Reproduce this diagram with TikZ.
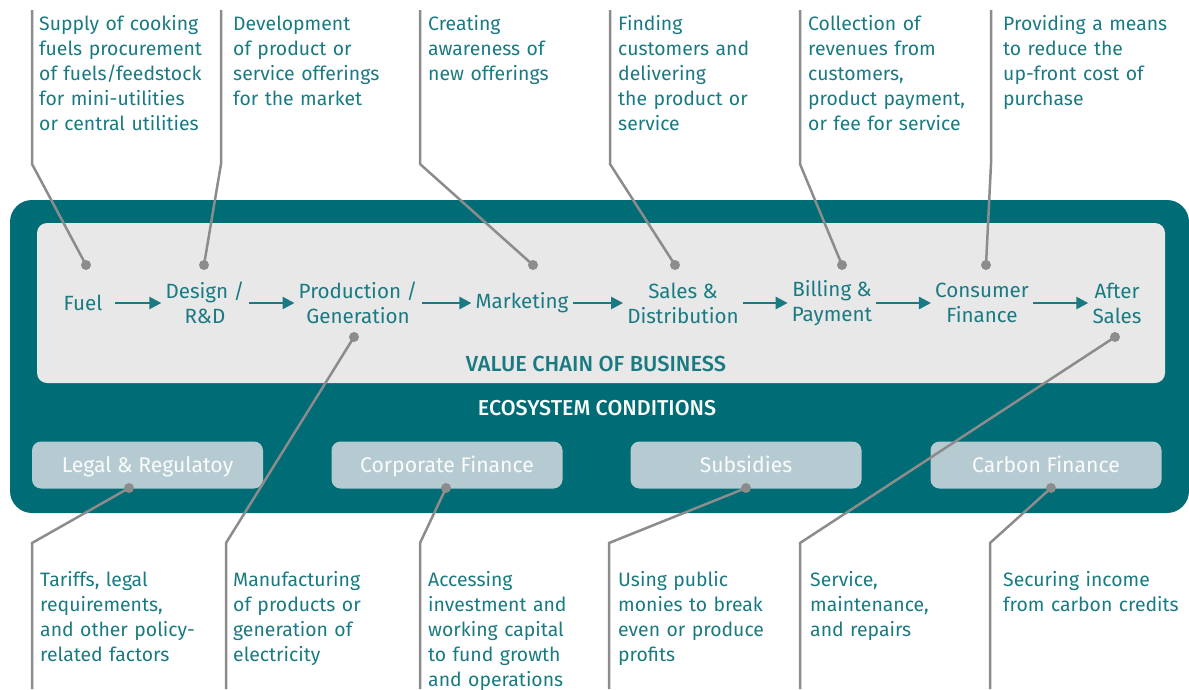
\documentclass[tikz,border=0pt]{standalone}
\usepackage{fontspec}
\setmainfont{Fira Sans}[BoldFont=* Medium]
\usetikzlibrary{arrows.meta}
\definecolor{tealtext}{RGB}{26,122,130}
\definecolor{band}{RGB}{0,108,118}
\definecolor{inner}{RGB}{232,232,232}
\definecolor{ebox}{RGB}{181,203,209}
\definecolor{callgray}{RGB}{140,140,140}
\definecolor{boxtext}{RGB}{250,252,252}
\begin{document}
\begin{tikzpicture}[x=1pt,y=-1pt,
  desc/.style={anchor=base west, text width=200pt, align=left, inner sep=0pt, text=tealtext, font=\fontsize{19.4}{25}\selectfont},
  chain/.style={align=center, inner sep=0pt, text=tealtext, font=\fontsize{20.6}{25}\selectfont},
  arr/.style={-{Triangle[length=12pt,width=12pt]}, line width=2.5pt, draw=tealtext, shorten <=4pt, shorten >=4pt},
  call/.style={draw=callgray, line width=2.5pt},
  dot/.style={fill=callgray},
  eco/.style={fill=ebox, rounded corners=9pt, minimum width=231pt, minimum height=47pt, inner sep=0pt, text height=14.5pt, text depth=0pt, text=boxtext, font=\fontsize{21.2}{24}\selectfont}
]
\useasboundingbox (0,0) rectangle (1189,689);
% bands
\fill[band, rounded corners=22pt] (10,200) rectangle (1189,513);
\fill[inner, rounded corners=10pt] (37,223) rectangle (1165,383);
\node[text=tealtext, font=\fontsize{21.8}{24}\selectfont\bfseries] (vc) at (596,364) {VALUE CHAIN OF BUSINESS};
\node[text=boxtext, font=\fontsize{21.5}{24}\selectfont\bfseries] (eco) at (597,408) {ECOSYSTEM CONDITIONS};
% ecosystem boxes
\node[eco] (legal) at (147.5,465) {Legal \& Regulatoy};
\node[eco] (corp) at (447,465) {Corporate Finance};
\node[eco] (subs) at (746,465) {Subsidies};
\node[eco] (carb) at (1046,465) {Carbon Finance};
% chain
\node[chain] (fuel) at (83,303) {Fuel};
\node[chain] (design) at (205,303) {Design /\\R\&D};
\node[chain] (prod) at (358,303) {Production /\\Generation};
\node[chain] (mark) at (522,303) {Marketing};
\node[chain] (sales) at (683,303) {Sales \&\\Distribution};
\node[chain] (bill) at (832,303) {Billing \&\\Payment};
\node[chain] (cons) at (982,303) {Consumer\\Finance};
\node[chain] (after) at (1117,303) {After\\Sales};
\draw[arr, shorten <=12pt] (fuel) -- (design);
\draw[arr] (design) -- (prod);
\draw[arr] (prod) -- (mark);
\draw[arr] (mark) -- (sales);
\draw[arr] (sales) -- (bill);
\draw[arr] (bill) -- (cons);
\draw[arr] (cons) -- (after);
% top descriptions
\node[desc] (t1) at (39,30) {Supply of cooking\\fuels procurement\\of fuels/feedstock\\for mini-utilities\\or central utilities};
\node[desc] (t2) at (233,30) {Development\\of product or\\service offerings\\for the market};
\node[desc] (t3) at (428,30) {Creating\\awareness of\\new offerings};
\node[desc] (t4) at (618,30) {Finding\\customers and\\delivering\\the product or\\service};
\node[desc] (t5) at (808,30) {Collection of\\revenues from\\customers,\\product payment,\\or fee for service};
\node[desc] (t6) at (1003,30) {Providing a means\\to reduce the\\up-front cost of\\purchase};
% bottom descriptions
\node[desc] (b1) at (40,586) {Tariffs, legal\\requirements,\\and other policy-\\related factors};
\node[desc] (b2) at (233,586) {Manufacturing\\of products or\\generation of\\electricity};
\node[desc] (b3) at (428,586) {Accessing\\investment and\\working capital\\to fund growth\\and operations};
\node[desc] (b4) at (618,586) {Using public\\monies to break\\even or produce\\profits};
\node[desc] (b5) at (810,586) {Service,\\maintenance,\\and repairs};
\node[desc] (b6) at (1003,586) {Securing income\\from carbon credits};
% top callouts
\foreach \n/\lx/\dx in {1/32/86, 2/221/204, 3/420/533, 4/610/675, 5/800/842, 6/991/986}{
  \coordinate (ts\n) at (\lx,10);
  \coordinate (tb\n) at (\lx,164);
  \coordinate (td\n) at (\dx,265);
  \draw[call] (ts\n) -- (tb\n) -- (td\n);
  \fill[dot] (td\n) circle (5pt);
}
% bottom callouts
\foreach \n/\lx/\dx/\dy in {1/32/129/488, 2/226/354/337, 3/420/446/488, 4/609/746/488, 5/800/1115/337, 6/990/1051/488}{
  \coordinate (be\n) at (\lx,689);
  \coordinate (bb\n) at (\lx,543);
  \coordinate (bd\n) at (\dx,\dy);
  \draw[call] (be\n) -- (bb\n) -- (bd\n);
  \fill[dot] (bd\n) circle (5pt);
}
\end{tikzpicture}
\end{document}
